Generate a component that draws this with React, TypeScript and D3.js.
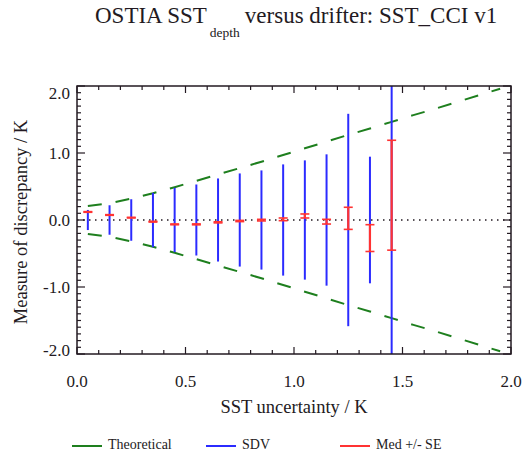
import React from 'react';
import * as d3 from 'd3';

const binCentres = [0.05, 0.15, 0.25, 0.35, 0.45, 0.55, 0.65, 0.75, 0.85, 0.95, 1.05, 1.15, 1.25, 1.35, 1.45];
const sdv = [0.15, 0.22, 0.31, 0.405, 0.48, 0.53, 0.62, 0.695, 0.74, 0.83, 0.89, 0.98, 1.585, 0.945, 2.6];
const medians = [0.12, 0.075, 0.035, -0.025, -0.065, -0.065, -0.035, -0.015, -0.002, 0.01, 0.06, -0.025, 0.025, -0.27, 0.37];
const stdErr = [0.005, 0.005, 0.005, 0.006, 0.006, 0.007, 0.008, 0.009, 0.012, 0.02, 0.03, 0.035, 0.165, 0.2, 0.82];

const theoryX = [0.05, 0.15, 0.25, 0.35, 0.45, 0.55, 0.65, 0.75, 0.85, 0.95, 1.05, 1.15, 1.25, 1.35, 1.45, 1.55, 1.65, 1.75, 1.85, 1.95];
const theoryUpper = [0.21, 0.25, 0.32, 0.4, 0.49, 0.585, 0.68, 0.775, 0.87, 0.97, 1.07, 1.17, 1.27, 1.365, 1.465, 1.565, 1.66, 1.76, 1.86, 1.96];
const theoryLower = [-0.21, -0.25, -0.32, -0.4, -0.49, -0.585, -0.68, -0.775, -0.87, -0.97, -1.07, -1.17, -1.27, -1.365, -1.465, -1.565, -1.66, -1.76, -1.86, -1.96];

const xTicks = [0, 0.5, 1, 1.5, 2];
const yTicks = [-2, -1, 0, 1, 2];
const legendLabels = ['Theoretical', 'SDV', 'Med +/- SE'];

const GREEN = '#1e7f1e';
const BLUE = '#2b2bff';
const RED = '#ff3333';
const INK = '#231a22';
const FONT = '"Liberation Serif", "Times New Roman", Times, "DejaVu Serif", "Noto Serif", serif';

export default function App() {
  const W = 523, H = 452;
  const L = 77, R = 511, T = 86, B = 354;
  const x = d3.scaleLinear().domain([0, 2]).range([L, R]);
  const y = d3.scaleLinear().domain([-2, 2]).range([B, T]);

  const line = d3.line<[number, number]>().x(d => x(d[0])).y(d => y(d[1]));
  const upper = line(theoryX.map((v, i) => [v, theoryUpper[i]] as [number, number])) || '';
  const lower = line(theoryX.map((v, i) => [v, theoryLower[i]] as [number, number])) || '';

  const xMinor = d3.range(0, 2.0001, 0.1);
  const yMinor = d3.range(-2, 2.0001, 0.1);
  const legendColors = [GREEN, BLUE, RED];
  const legendX = [72, 206, 340];
  const ts = (size: number) => ({ fontFamily: FONT, fontSize: size + 'px' });

  return (
    <svg width={W} height={H} style={{ position: 'absolute', left: 0, top: 0, background: '#fff' }}>
      <defs>
        <clipPath id="plotclip">
          <rect x={L} y={T} width={R - L} height={B - T} />
        </clipPath>
      </defs>
      <rect x={0} y={0} width={W} height={H} fill="#fff" />

      <text x={95} y={23} style={ts(23)} fill={INK}>
        OSTIA SST
        <tspan style={ts(13.5)} dy={14} dx={3}>depth</tspan>
        <tspan dy={-14} dx={5}>versus drifter: SST_CCI v1</tspan>
      </text>

      <line x1={L} x2={R} y1={y(0)} y2={y(0)} stroke={INK} strokeWidth={1.5} strokeDasharray="1.5,4.5" />

      <g clipPath="url(#plotclip)">
        <path d={upper} fill="none" stroke={GREEN} strokeWidth={2} strokeDasharray="14,14" />
        <path d={lower} fill="none" stroke={GREEN} strokeWidth={2} strokeDasharray="14,14" />

        {binCentres.map((c, i) => (
          <line key={'b' + i} x1={x(c)} x2={x(c)} y1={y(sdv[i])} y2={y(-sdv[i])} stroke={BLUE} strokeWidth={2} />
        ))}

        {binCentres.map((c, i) => {
          const y1 = y(medians[i] + stdErr[i]);
          const y2 = y(medians[i] - stdErr[i]);
          const cx = x(c);
          return (
            <g key={'r' + i} stroke={RED}>
              <line x1={cx} x2={cx} y1={y1} y2={y2} strokeWidth={2.2} />
              <line x1={cx - 4.5} x2={cx + 4.5} y1={y1} y2={y1} strokeWidth={1.6} />
              <line x1={cx - 4.5} x2={cx + 4.5} y1={y2} y2={y2} strokeWidth={1.6} />
            </g>
          );
        })}
      </g>

      <rect x={L} y={T} width={R - L} height={B - T} fill="none" stroke={INK} strokeWidth={1.5} />

      {xMinor.map((t, i) => {
        const major = Math.abs(t * 2 - Math.round(t * 2)) < 1e-6;
        const len = major ? 7 : 4;
        return (
          <g key={'xt' + i} stroke={INK} strokeWidth={1.2}>
            <line x1={x(t)} x2={x(t)} y1={B} y2={B - len} />
            <line x1={x(t)} x2={x(t)} y1={T} y2={T + len} />
          </g>
        );
      })}
      {yMinor.map((t, i) => {
        const major = Math.abs(t - Math.round(t)) < 1e-6;
        const len = major ? 8 : 4;
        return (
          <g key={'yt' + i} stroke={INK} strokeWidth={1.2}>
            <line x1={L} x2={L + len} y1={y(t)} y2={y(t)} />
            <line x1={R} x2={R - len} y1={y(t)} y2={y(t)} />
          </g>
        );
      })}

      {xTicks.map((t, i) => (
        <text key={'xl' + i} x={x(t)} y={387} style={ts(17)} textAnchor="middle" fill={INK}>{t.toFixed(1)}</text>
      ))}
      {yTicks.map((t, i) => {
        const yy = Math.min(Math.max(y(t), T + 7), B - 4);
        return (
          <text key={'yl' + i} x={70} y={yy} dy="0.35em" style={ts(17)} textAnchor="end" fill={INK}>{t.toFixed(1)}</text>
        );
      })}

      <text x={(L + R) / 2} y={413} style={ts(18.5)} textAnchor="middle" fill={INK}>SST uncertainty / K</text>
      <text transform={`translate(27,${(T + B) / 2 + 2}) rotate(-90)`} style={ts(18.5)} textAnchor="middle" fill={INK}>Measure of discrepancy / K</text>

      {legendLabels.map((lab, i) => (
        <g key={'lg' + i}>
          <line x1={legendX[i]} x2={legendX[i] + 30} y1={446} y2={446} stroke={legendColors[i]} strokeWidth={2} />
          <text x={legendX[i] + 36} y={449} style={ts(14)} fill={INK}>{lab}</text>
        </g>
      ))}
    </svg>
  );
}
